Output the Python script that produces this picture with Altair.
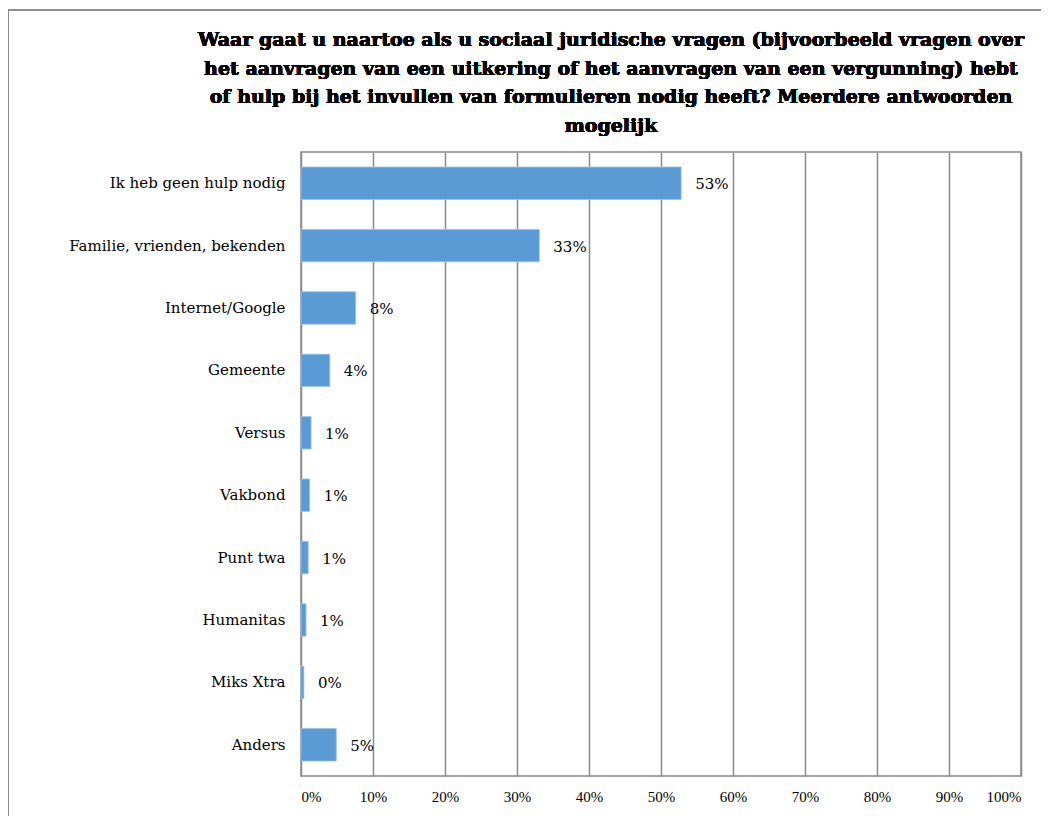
import altair as alt
import pandas as pd

categories = ["Ik heb geen hulp nodig", "Familie, vrienden, bekenden", "Internet/Google",
              "Gemeente", "Versus", "Vakbond", "Punt twa", "Humanitas", "Miks Xtra", "Anders"]
values = [0.528, 0.331, 0.076, 0.040, 0.014, 0.012, 0.010, 0.007, 0.004, 0.049]
tick_values = [0, 0.1, 0.2, 0.3, 0.4, 0.5, 0.6, 0.7, 0.8, 0.9, 1.0]

title_lines = [
    "Waar gaat u naartoe als u sociaal juridische vragen (bijvoorbeeld vragen over",
    "het aanvragen van een uitkering of het aanvragen van een vergunning) hebt",
    "of hulp bij het invullen van formulieren nodig heeft? Meerdere antwoorden",
    "mogelijk",
]

df = pd.DataFrame({"cat": categories, "val": values})

FONT = "DejaVu Serif"
GRID = "#8a8a8a"

y_enc = alt.Y("cat:N", sort=categories, title=None,
              scale=alt.Scale(paddingInner=0.48, paddingOuter=0.24),
              axis=alt.Axis(labelFont=FONT, labelFontSize=15, labelColor="#000000",
                            labelPadding=16, ticks=False, domain=False, labelLimit=300))
x_enc = alt.X("val:Q", title=None,
              scale=alt.Scale(domain=[0, 1], nice=False),
              axis=alt.Axis(values=tick_values, format=".0%", labelFont="Liberation Serif",
                            labelFontSize=15, labelColor="#000000", labelPadding=13,
                            ticks=False, domain=False, grid=True, gridColor=GRID,
                            gridWidth=1.5, gridOpacity=1))

bars = alt.Chart(df).mark_bar(color="#5B9BD5", stroke="#9dc3e6", strokeWidth=0.8).encode(
    x=x_enc, y=y_enc)

labels = alt.Chart(df).mark_text(align="left", baseline="middle", dx=14, dy=1,
                                 font=FONT, fontSize=15, color="#000000").encode(
    x="val:Q", y=alt.Y("cat:N", sort=categories),
    text=alt.Text("val:Q", format=".0%"))

title = alt.Chart(df).mark_text(align="center", baseline="top", font=FONT, fontSize=19,
                                fontWeight="bold", color="#000000", lineHeight=28.7,
                                lineBreak="\n").encode(
    x=alt.value(310), y=alt.value(-121), text=alt.value("\n".join(title_lines)))

frame_top = alt.Chart(df).mark_rule(color="#8c8c8c", strokeWidth=2).encode(
    x=alt.value(-293), x2=alt.value(760), y=alt.value(-142))
frame_left = alt.Chart(df).mark_rule(color="#8c8c8c", strokeWidth=2).encode(
    x=alt.value(-293), y=alt.value(-143), y2=alt.value(700))

chart = alt.layer(bars, labels, title, frame_top, frame_left).properties(
    width=720, height=624,
    autosize=alt.AutoSizeParams(type="none"),
    padding={"left": 293, "top": 144, "right": 20, "bottom": 40},
).configure_view(stroke=GRID, strokeWidth=1.5)

chart.save("out.html", embed_options={"renderer": "svg", "actions": False})
